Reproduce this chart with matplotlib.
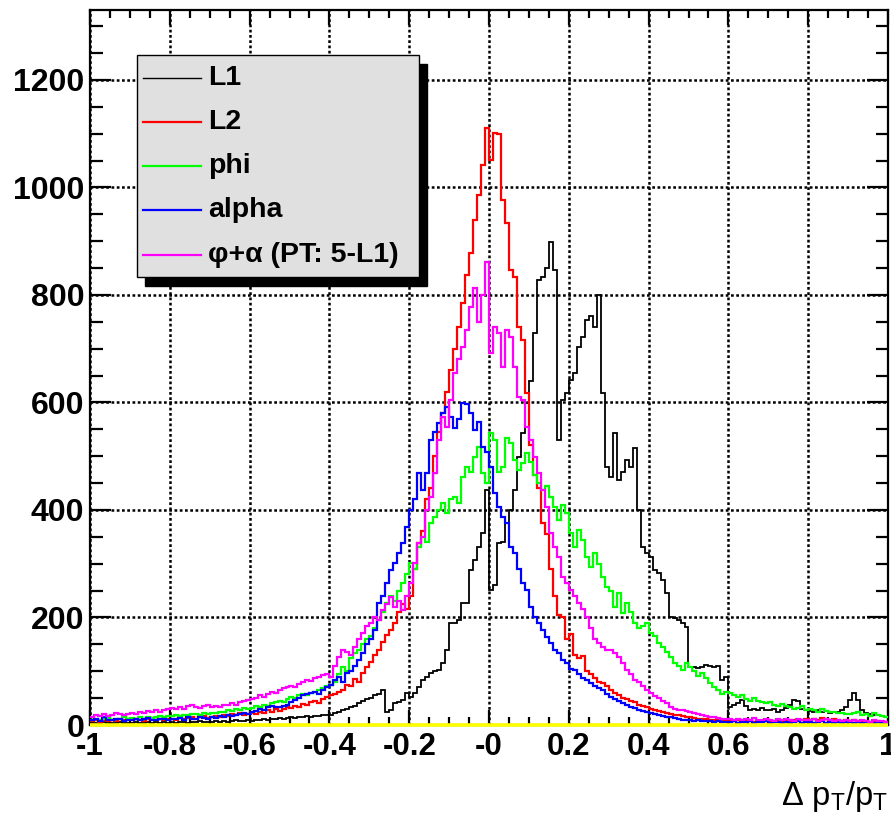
import numpy as np
import matplotlib
matplotlib.use("Agg")
import matplotlib.pyplot as plt
from matplotlib.patches import Rectangle
from matplotlib.lines import Line2D

plt.rcParams['font.family'] = ['Liberation Sans', 'DejaVu Sans']
plt.rcParams['mathtext.fontset'] = 'custom'
plt.rcParams['mathtext.rm'] = 'Liberation Sans'
plt.rcParams['mathtext.it'] = 'Liberation Sans:italic'
plt.rcParams['mathtext.bf'] = 'Liberation Sans:bold'

# ---------------- data (200 bins from -1 to 1) ----------------
x_min, x_max, n_bins = -1.0, 1.0, 200

L1 = [3, 4, 2, 5, 3, 4, 3, 5, 4, 3,
      4, 5, 3, 4, 6, 4, 5, 3, 5, 4,
      5, 4, 6, 5, 4, 6, 5, 7, 6, 5,
      6, 7, 5, 8, 6, 7, 9, 8, 7, 9,
      8, 10, 9, 11, 10, 12, 11, 13, 12, 13,
      14, 13, 15, 14, 16, 15, 17, 16, 18, 19,
      19, 22, 25, 28, 30, 33, 36, 40, 44, 48,
      50, 55, 58, 65, 24, 28, 40, 42, 46, 59,
      52, 60, 71, 84, 90, 97, 100, 102, 115, 140,
      190, 190, 195, 227, 227, 288, 307, 331, 357, 437,
      251, 260, 339, 340, 375, 400, 437, 499, 543, 599,
      640, 729, 828, 834, 850, 899, 846, 530, 605, 618,
      642, 655, 703, 722, 753, 760, 740, 800, 618, 480,
      461, 543, 456, 470, 493, 480, 515, 400, 331, 320,
      313, 288, 283, 270, 245, 201, 199, 195, 190, 183,
      108, 108, 106, 108, 112, 110, 108, 110, 84, 90,
      34, 38, 40, 46, 35, 28, 30, 28, 32, 27,
      28, 30, 25, 28, 32, 38, 46, 44, 30, 28,
      26, 25, 27, 24, 26, 22, 25, 24, 28, 34,
      46, 59, 46, 28, 22, 20, 18, 19, 17, 15]

L2 = [8, 10, 6, 9, 7, 10, 8, 11, 9, 10,
      9, 12, 10, 8, 11, 13, 10, 12, 9, 11,
      12, 10, 14, 11, 13, 15, 12, 14, 16, 13,
      15, 17, 14, 18, 16, 20, 18, 22, 19, 21,
      22, 20, 25, 23, 27, 24, 29, 26, 30, 33,
      32, 36, 34, 39, 37, 42, 45, 41, 48, 52,
      55, 58, 62, 66, 75, 72, 85, 80, 96, 108,
      118, 130, 140, 155, 168, 176, 190, 210, 225, 215,
      240, 290, 339, 360, 420, 440, 500, 545, 580, 620,
      660, 700, 740, 785, 837, 878, 940, 985, 1042, 1111,
      1051, 1101, 1100, 977, 934, 846, 834, 740, 716, 618,
      520, 465, 440, 375, 355, 290, 240, 205, 200, 160,
      170, 130, 125, 128, 100, 95, 88, 80, 78, 72,
      65, 60, 55, 50, 48, 45, 42, 38, 35, 33,
      30, 28, 26, 24, 22, 20, 19, 18, 16, 15,
      14, 13, 12, 12, 11, 10, 10, 9, 9, 8,
      8, 7, 9, 6, 8, 7, 6, 8, 7, 9,
      6, 8, 7, 5, 9, 8, 10, 7, 9, 11,
      10, 12, 9, 13, 11, 10, 12, 9, 8, 10,
      7, 9, 6, 8, 7, 6, 5, 7, 6, 5]

phi = [10, 12, 9, 11, 13, 10, 12, 11, 14, 12,
       13, 11, 14, 12, 15, 13, 14, 16, 15, 17,
       16, 18, 17, 19, 18, 20, 21, 19, 22, 21,
       23, 22, 25, 24, 27, 26, 29, 28, 31, 30,
       32, 35, 33, 37, 36, 40, 42, 45, 43, 48,
       52, 50, 55, 58, 56, 60, 62, 65, 68, 72,
       74, 80, 95, 108, 100, 125, 134, 140, 150, 160,
       165, 180, 195, 210, 227, 240, 230, 250, 264, 280,
       301, 290, 331, 350, 340, 375, 387, 400, 413, 395,
       420, 424, 413, 461, 480, 470, 499, 517, 469, 450,
       543, 530, 470, 480, 534, 525, 493, 474, 487, 506,
       490, 465, 450, 437, 445, 424, 405, 381, 410, 395,
       357, 331, 363, 345, 313, 294, 320, 300, 275, 257,
       250, 220, 245, 208, 227, 210, 190, 180, 185, 190,
       171, 165, 153, 145, 135, 127, 115, 110, 102, 115,
       108, 100, 92, 97, 88, 78, 70, 65, 58, 62,
       60, 56, 52, 55, 48, 45, 50, 44, 42, 40,
       42, 38, 36, 39, 35, 34, 30, 32, 35, 28,
       30, 27, 25, 29, 26, 24, 25, 22, 23, 21,
       20, 22, 24, 18, 20, 17, 22, 18, 16, 15]

alpha = [10, 12, 8, 14, 10, 9, 12, 11, 8, 10,
         10, 12, 9, 11, 13, 10, 9, 12, 11, 10,
         12, 11, 13, 10, 14, 12, 11, 15, 13, 12,
         15, 13, 16, 14, 18, 16, 19, 20, 22, 21,
         24, 26, 30, 28, 33, 35, 33, 34, 36, 38,
         42, 46, 50, 55, 58, 60, 62, 58, 65, 70,
         75, 84, 90, 80, 97, 100, 110, 121, 134, 150,
         160, 177, 227, 240, 264, 288, 301, 320, 339, 368,
         400, 420, 469, 437, 469, 530, 545, 562, 580, 592,
         573, 552, 570, 599, 598, 580, 549, 564, 517, 508,
         480, 432, 406, 387, 375, 331, 320, 290, 264, 251,
         220, 201, 190, 177, 164, 153, 140, 134, 121, 115,
         105, 102, 95, 88, 84, 78, 72, 68, 65, 58,
         52, 48, 45, 40, 38, 34, 32, 28, 26, 24,
         22, 20, 18, 17, 15, 14, 13, 12, 10, 10,
         9, 8, 10, 8, 7, 8, 6, 7, 6, 6,
         5, 7, 4, 6, 5, 8, 4, 6, 5, 7,
         4, 6, 5, 3, 6, 4, 5, 7, 4, 5,
         6, 4, 5, 7, 4, 6, 3, 5, 4, 6,
         5, 3, 6, 4, 5, 3, 4, 5, 3, 4]

phi_alpha = [15, 18, 16, 20, 17, 19, 22, 20, 18, 21,
             22, 20, 24, 23, 26, 25, 28, 24, 27, 30,
             31, 29, 33, 30, 35, 37, 34, 32, 36, 38,
             34, 36, 33, 38, 37, 40, 38, 42, 45, 47,
             48, 50, 55, 52, 58, 62, 60, 65, 68, 71,
             73, 70, 76, 80, 84, 82, 88, 90, 93, 95,
             90, 110, 127, 140, 136, 130, 145, 160, 171, 185,
             190, 201, 195, 214, 225, 238, 220, 230, 214, 240,
             264, 301, 339, 350, 400, 424, 469, 530, 573, 555,
             605, 655, 680, 703, 735, 778, 813, 750, 800, 861,
             692, 740, 729, 666, 735, 722, 666, 610, 605, 554,
             530, 499, 469, 437, 406, 357, 331, 313, 275, 264,
             251, 240, 227, 215, 201, 180, 160, 153, 145, 140,
             140, 134, 127, 115, 102, 95, 84, 80, 72, 65,
             59, 54, 50, 45, 40, 34, 30, 28, 27, 26,
             24, 22, 20, 18, 16, 15, 14, 13, 12, 12,
             11, 10, 12, 9, 11, 10, 13, 9, 10, 12,
             10, 8, 11, 9, 12, 10, 8, 11, 9, 10,
             9, 11, 8, 10, 12, 9, 7, 10, 8, 9,
             8, 10, 7, 9, 8, 6, 9, 7, 8, 6]

empty_hist = [0] * n_bins

series_labels = ["L1", "L2", "phi", "alpha", "\u03c6+\u03b1 (PT: 5-L1)"]
series_colors = ["#000000", "#ff0000", "#00ff00", "#0000ff", "#ff00ff"]
series_widths = [1.3, 1.6, 1.6, 1.6, 1.6]

x_ticks = [-1, -0.8, -0.6, -0.4, -0.2, 0, 0.2, 0.4, 0.6, 0.8, 1]
x_tick_labels = ["-1", "-0.8", "-0.6", "-0.4", "-0.2", "-0", "0.2", "0.4", "0.6", "0.8", "1"]
y_ticks = [0, 200, 400, 600, 800, 1000, 1200]
y_tick_labels = ["0", "200", "400", "600", "800", "1000", "1200"]

# ---------------- figure ----------------
W, H = 891, 813
fig = plt.figure(figsize=(W / 100, H / 100), dpi=100)
ax = fig.add_axes([90 / W, 88 / H, 798 / W, 715 / H])

edges = np.linspace(x_min, x_max, n_bins + 1)
all_series = [L1, L2, phi, alpha, phi_alpha]
for vals, col, lw in zip(all_series, series_colors, series_widths):
    ax.stairs(vals, edges, color=col, linewidth=lw, baseline=None, zorder=3)
ax.stairs(empty_hist, edges, color="#ffff00", linewidth=2.6, baseline=None,
          zorder=4, clip_on=False)

ax.set_xlim(x_min, x_max)
ax.set_ylim(0, 1330)

ax.set_xticks(x_ticks)
ax.set_xticklabels(x_tick_labels, fontsize=22.5, fontweight='bold')
ax.set_yticks(y_ticks)
ax.set_yticklabels(y_tick_labels, fontsize=23, fontweight='bold')
ax.set_xticks(np.arange(-1, 1.0001, 0.05), minor=True)
ax.set_yticks(np.arange(0, 1330, 50), minor=True)

ax.tick_params(axis='both', which='both', direction='in', top=True, right=True, width=1.6)
ax.tick_params(axis='x', which='major', length=11, pad=5)
ax.tick_params(axis='x', which='minor', length=6)
ax.tick_params(axis='y', which='major', length=15, pad=4)
ax.tick_params(axis='y', which='minor', length=9)

ax.grid(True, which='major', color='black', linestyle=(0, (1.1, 1.0)), linewidth=1.8, zorder=1)
ax.set_axisbelow(True)
for sp in ax.spines.values():
    sp.set_linewidth(1.6)

# x-axis title at the right end
ax.text(1.0, -0.100, r'$\Delta\ \mathrm{p_{T}/p_{T}}$', transform=ax.transAxes,
        ha='right', va='center', fontsize=23.5)

# ---------------- legend (ROOT style box with shadow) ----------------
bx0, bx1 = (137 - 90) / 798, (419 - 90) / 798
by0, by1 = (725 - 277) / 715, (725 - 55) / 715
ax.add_patch(Rectangle((bx0 + 8 / 798, by0 - 9 / 715), bx1 - bx0, by1 - by0,
                       transform=ax.transAxes, facecolor='black', edgecolor='black',
                       zorder=5, clip_on=False))
ax.add_patch(Rectangle((bx0, by0), bx1 - bx0, by1 - by0, transform=ax.transAxes,
                       facecolor='#e0e0e0', edgecolor='black', linewidth=1.0,
                       zorder=6, clip_on=False))
row_px = [78, 122, 166, 210, 255]
for lab, col, rp in zip(series_labels, series_colors, row_px):
    yy = (725 - rp) / 715
    ax.add_line(Line2D([(143 - 90) / 798, (201 - 90) / 798], [yy, yy], color=col,
                       linewidth=1.6 if col != "#000000" else 1.0,
                       transform=ax.transAxes, zorder=7))
    ax.text((208 - 90) / 798, yy, lab, transform=ax.transAxes, ha='left', va='center',
            fontsize=20.5, fontweight='bold', zorder=8)

fig.savefig("out.png", dpi=100, facecolor='white')
